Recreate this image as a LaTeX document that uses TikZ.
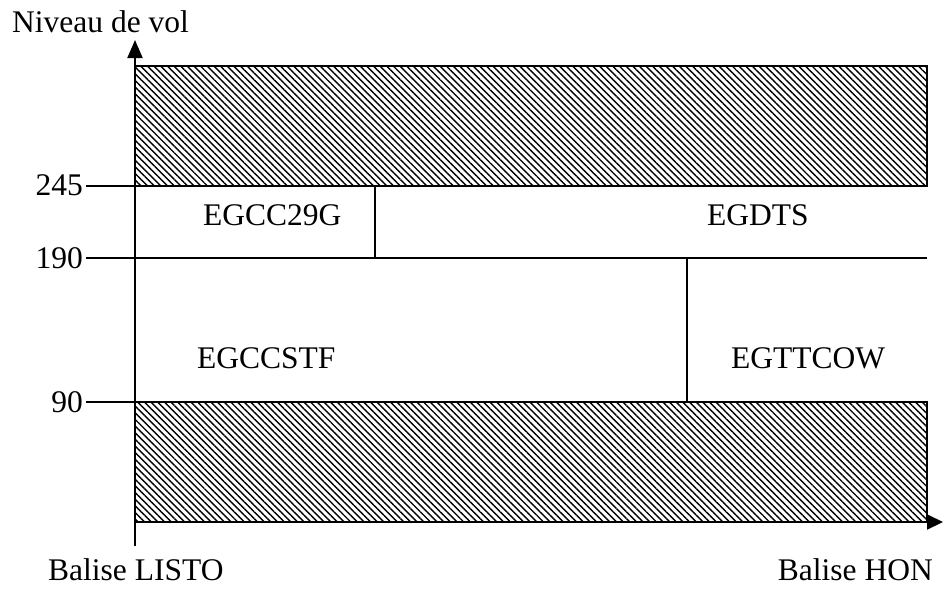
\documentclass[tikz,border=0pt]{standalone}
\usepackage{fontspec}
\setmainfont{Liberation Serif}
\usetikzlibrary{arrows.meta,patterns.meta}

\begin{document}
\begin{tikzpicture}[x=1pt,y=-1pt,
	hatch/.style={draw,line width=2pt,pattern={Lines[angle=-45,distance=4.7pt,line width=1.4pt]}},
	rule/.style={line width=2pt},
	lbl/.style={font=\fontsize{31.5}{36}\selectfont,inner sep=0pt}]
	\useasboundingbox (0,0) rectangle (943,590);

	% axes
	\coordinate (O) at (135,522);
	\coordinate (ytop) at (135,40);
	\coordinate (xend) at (943,522);
	\coordinate (ybot) at (135,546);
	\draw[rule,-{Triangle[width=15pt,length=18pt]}] (ybot) -- (ytop);
	\draw[rule,-{Triangle[width=15pt,length=16pt]}] (O) -- (xend);

	% forbidden levels
	\draw[hatch] (135,66) rectangle (927,186);
	\draw[hatch] (135,402) rectangle (927,522);

	% level lines
	\begin{scope}[rule]
		\draw (86,186) -- (927,186);
		\draw (86,258) -- (927,258);
		\draw (86,402) -- (927,402);
		\draw (375,186) -- (375,258);
		\draw (687,258) -- (687,402);
	\end{scope}

	\begin{scope}[every node/.style={lbl}]
		\node[anchor=base west] (axey) at (12,32) {Niveau de vol};
		\node[anchor=east] (n245) at (83,185) {245};
		\node[anchor=east] (n190) at (83,258) {190};
		\node[anchor=east] (n90) at (83,402) {90};

		\node[anchor=base west] (s1) at (203,225) {EGCC29G};
		\node[anchor=base west] (s2) at (707,225) {EGDTS};
		\node[anchor=base west] (s3) at (197,368) {EGCCSTF};
		\node[anchor=base west] (s4) at (731,368) {EGTTCOW};

		\node[anchor=base west] (listo) at (48,580) {Balise LISTO};
		\node[anchor=base east] (hon) at (933,580) {Balise HON};
	\end{scope}
\end{tikzpicture}
\end{document}
